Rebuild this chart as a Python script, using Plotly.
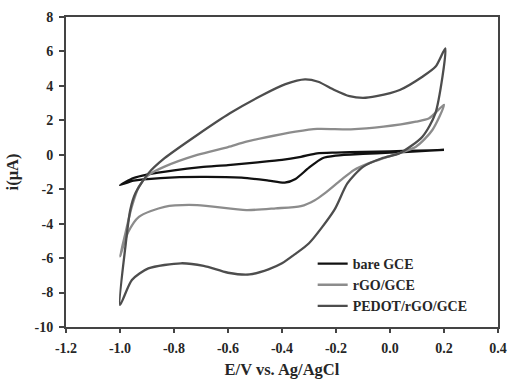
import plotly.graph_objects as go

# bare GCE loop: upper (anodic) branch then lower (cathodic) branch
bare_E = [-1.0, -0.95, -0.9, -0.8, -0.7, -0.6, -0.5, -0.4, -0.33, -0.27, -0.2, -0.1, 0.0, 0.1, 0.2,
          0.1, 0.0, -0.1, -0.2, -0.25, -0.3, -0.35, -0.39, -0.45, -0.55, -0.7, -0.85, -0.95, -1.0]
bare_i = [-1.76, -1.35, -1.15, -0.9, -0.72, -0.6, -0.45, -0.3, -0.12, 0.08, 0.13, 0.17, 0.2, 0.24, 0.28,
          0.2, 0.12, 0.05, -0.05, -0.2, -0.75, -1.4, -1.62, -1.5, -1.33, -1.28, -1.35, -1.5, -1.76]

rgo_E = [-1.0, -0.98, -0.956, -0.93, -0.895, -0.835, -0.714, -0.6, -0.532, -0.4, -0.35, -0.27, -0.145,
         -0.024, 0.096, 0.145, 0.2,
         0.157, 0.096, -0.024, -0.08, -0.133, -0.182, -0.242, -0.28, -0.33, -0.423, -0.532, -0.714, -0.835,
         -0.93, -0.97, -1.0]
rgo_i = [-5.9, -4.56, -3.0, -1.85, -1.18, -0.69, -0.01, 0.45, 0.76, 1.2, 1.34, 1.5, 1.48,
         1.63, 1.92, 2.12, 2.9,
         1.44, 0.47, -0.2, -0.5, -0.88, -1.47, -2.24, -2.65, -2.98, -3.11, -3.21, -2.92, -3.02,
         -3.6, -4.5, -5.9]

pedot_E = [-1.0, -0.98, -0.962, -0.943, -0.895, -0.835, -0.714, -0.593, -0.472, -0.387, -0.315, -0.266,
           -0.206, -0.15, -0.1, -0.05, 0.036, 0.12, 0.169, 0.205,
           0.168, 0.12, 0.036, -0.03, -0.1, -0.158, -0.206, -0.30, -0.35, -0.4, -0.45, -0.52, -0.6, -0.69,
           -0.774, -0.895, -0.956, -1.0]
pedot_i = [-8.72, -5.34, -3.2, -2.24, -1.08, -0.2, 1.15, 2.41, 3.47, 4.1, 4.38, 4.24,
           3.76, 3.4, 3.3, 3.4, 3.76, 4.53, 5.12, 6.18,
           2.4, 1.05, 0.09, -0.2, -0.7, -1.66, -3.2, -5.14, -5.75, -6.3, -6.65, -6.95, -6.85, -6.45,
           -6.3, -6.6, -7.27, -8.72]

names = ["bare GCE", "rGO/GCE", "PEDOT/rGO/GCE"]
colors = ["#111111", "#8c8c8c", "#4d4d4d"]
x_ticks = [-1.2, -1.0, -0.8, -0.6, -0.4, -0.2, 0.0, 0.2, 0.4]
y_ticks = [-10, -8, -6, -4, -2, 0, 2, 4, 6, 8]

FONT = "Liberation Serif"
TXT = "#262626"

fig = go.Figure()
for E, I, n, c in zip([bare_E, rgo_E, pedot_E], [bare_i, rgo_i, pedot_i], names, colors):
    fig.add_trace(go.Scatter(x=E, y=I, mode="lines", name=n,
                             line=dict(color=c, width=2.3, shape="spline", smoothing=0.7)))

fig.update_layout(
    width=515, height=384,
    margin=dict(l=66, r=8, t=17, b=57),
    paper_bgcolor="white", plot_bgcolor="white",
    font=dict(family=FONT, color=TXT, size=14, weight="bold"),
    showlegend=True,
    legend=dict(x=0.571, y=0.255, xanchor="left", yanchor="top",
                bgcolor="rgba(0,0,0,0)", font=dict(family=FONT, size=14, weight="bold", color=TXT),
                tracegroupgap=0, itemwidth=30),
    xaxis=dict(range=[-1.2, 0.4], tickvals=x_ticks, ticktext=[f"{v:.1f}" for v in x_ticks],
               showgrid=False, zeroline=False, showline=True, linecolor="#444", linewidth=2,
               mirror=True, ticks="outside", ticklen=4, tickwidth=1.5, tickcolor="#444",
               ticklabelstandoff=3,
               tickfont=dict(family=FONT, size=14, weight="bold", color=TXT),
               title=dict(text="E/V vs. Ag/AgCl", font=dict(family=FONT, size=16.5, weight="bold", color=TXT),
                          standoff=9)),
    yaxis=dict(range=[-10, 8], tickvals=y_ticks, ticktext=[str(v) for v in y_ticks],
               showgrid=False, zeroline=False, showline=True, linecolor="#444", linewidth=2,
               mirror=True, ticks="outside", ticklen=5, tickwidth=1.5, tickcolor="#444",
               ticklabelstandoff=3,
               tickfont=dict(family=FONT, size=14, weight="bold", color=TXT),
               title=dict(text="i(μA)", font=dict(family=FONT, size=16.5, weight="bold", color=TXT),
                          standoff=12)),
)

fig.write_html("out.html")
